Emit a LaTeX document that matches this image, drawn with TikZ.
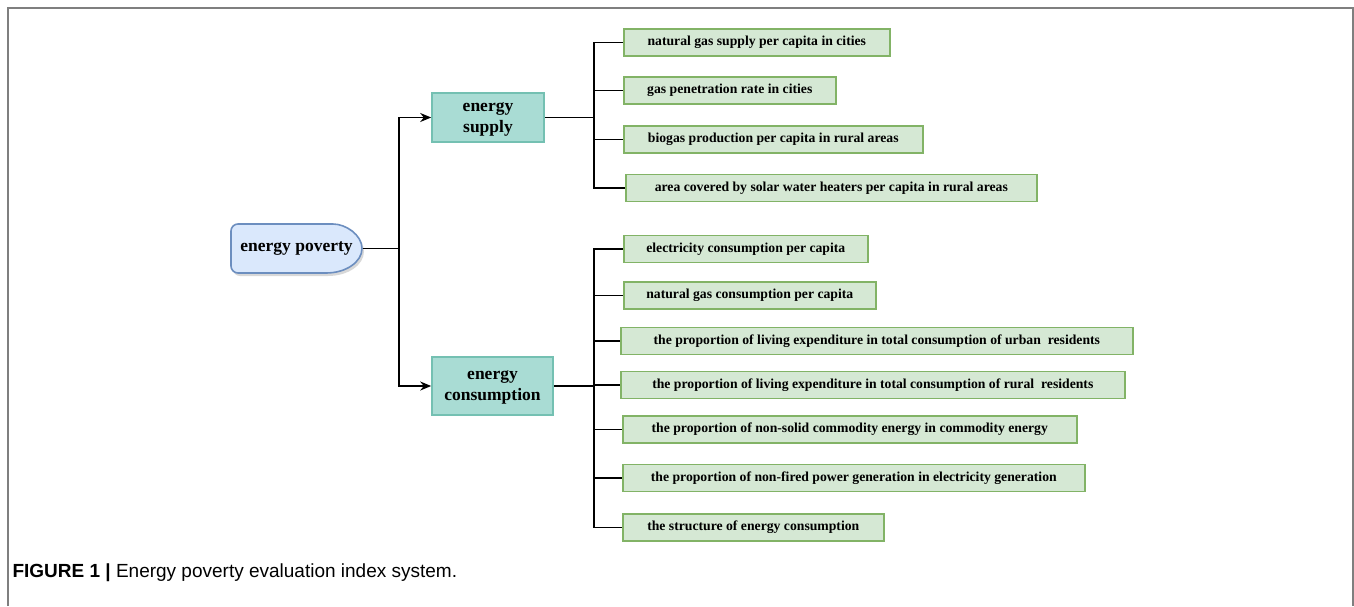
\documentclass[tikz,border=0pt]{standalone}
\usepackage{fontspec}
\setmainfont{Liberation Serif}
\newfontfamily\capfont{Liberation Sans}
\usetikzlibrary{arrows.meta}
\usetikzlibrary{shadows}

\definecolor{rootfill}{HTML}{DAE8FC}
\definecolor{rootline}{HTML}{6C8EBF}
\definecolor{midfill}{HTML}{A9DCD4}
\definecolor{midline}{HTML}{74C0B2}
\definecolor{leaffill}{HTML}{D5E8D4}
\definecolor{leafline}{HTML}{82B366}
\definecolor{framegray}{HTML}{7F7F7F}

\begin{document}
\begin{tikzpicture}[x=1pt, y=1pt,
		conn/.style={line width=1.7pt},
		midbox/.style={draw=midline, fill=midfill, line width=1.6pt, align=center, text depth=-2pt,
			font=\fontsize{17.5}{21}\selectfont\bfseries, minimum height=49, inner sep=0pt},
		leaf/.style={draw=leafline, fill=leaffill, line width=1.6pt, anchor=west,
			font=\fontsize{13.7}{15}\selectfont\bfseries, minimum height=27, inner sep=0pt}]
			\useasboundingbox (0,0) rectangle (1354,-606);
			\draw[framegray, line width=1.6pt] (8,-606) -- (8,-8) -- (1353,-8) -- (1353,-606);
			
			% root
			\filldraw[draw=rootline, fill=rootfill, line width=1.6pt,
				drop shadow={shadow xshift=2pt, shadow yshift=-3pt, fill=black!30}]
				(326,-224) arc[start angle=90, end angle=-90, x radius=36, y radius=24.5]
				[rounded corners=7] -- (231,-273) -- (231,-224) -- cycle;
			\node[font=\fontsize{17.5}{20}\selectfont\bfseries, minimum width=132, minimum height=49, inner sep=0pt] (ep) at (296.5,-248.5) {energy poverty};
			
			\node[midbox, minimum width=112] (sup) at (488,-117.5) {energy\\supply};
			\node[midbox, minimum width=121, minimum height=58] (con) at (492.5,-386) {energy\\consumption};
			
			\node[leaf, minimum width=266] (s1) at (623,-42.5) {natural gas supply per capita in cities};
			\node[leaf, minimum width=212] (s2) at (623,-90.5) {gas penetration rate in cities};
			\node[leaf, minimum width=299] (s3) at (623,-139.5) {biogas production per capita in rural areas};
			\node[leaf, minimum width=411] (s4) at (625,-188) {area covered by solar water heaters per capita in rural areas};
			
			\node[leaf, minimum width=244] (c1) at (623,-249) {electricity consumption per capita};
			\node[leaf, minimum width=252] (c2) at (623,-295.5) {natural gas consumption per capita};
			\node[leaf, minimum width=512] (c3) at (620,-341) {the proportion of living expenditure in total consumption of urban\ \ residents};
			\node[leaf, minimum width=504] (c4) at (620,-385) {the proportion of living expenditure in total consumption of rural\ \ residents};
			\node[leaf, minimum width=454] (c5) at (622,-429.5) {the proportion of non-solid commodity energy in commodity energy};
			\node[leaf, minimum width=462] (c6) at (622,-478) {the proportion of non-fired power generation in electricity generation};
			\node[leaf, minimum width=261] (c7) at (622,-527.5) {the structure of energy consumption};
			
			\coordinate (rb) at (399,-248.5);
			\coordinate (sb) at (594,-117.5);
			\coordinate (cb) at (594,-386);
			
			\draw[conn] (ep.east) -- (rb);
			\draw[conn, -{Stealth[length=11pt, width=9pt]}] (rb) |- (sup.west);
			\draw[conn, -{Stealth[length=11pt, width=9pt]}] (rb) |- (con.west);
			
			\draw[conn] (sup.east) -- (sb);
			\foreach \l in {s1,s2,s3,s4}
				\draw[conn] (sb) |- (\l.west);
			\draw[conn] (con.east) -- (cb);
			\foreach \l in {c1,c2,c3,c4,c5,c6,c7}
				\draw[conn] (cb) |- (\l.west);
			
			\node[anchor=west, font=\capfont\fontsize{19}{22}\selectfont] (cap) at (9,-573) {\textbf{FIGURE 1 |} Energy poverty evaluation index system.};
		\end{tikzpicture}
\end{document}
